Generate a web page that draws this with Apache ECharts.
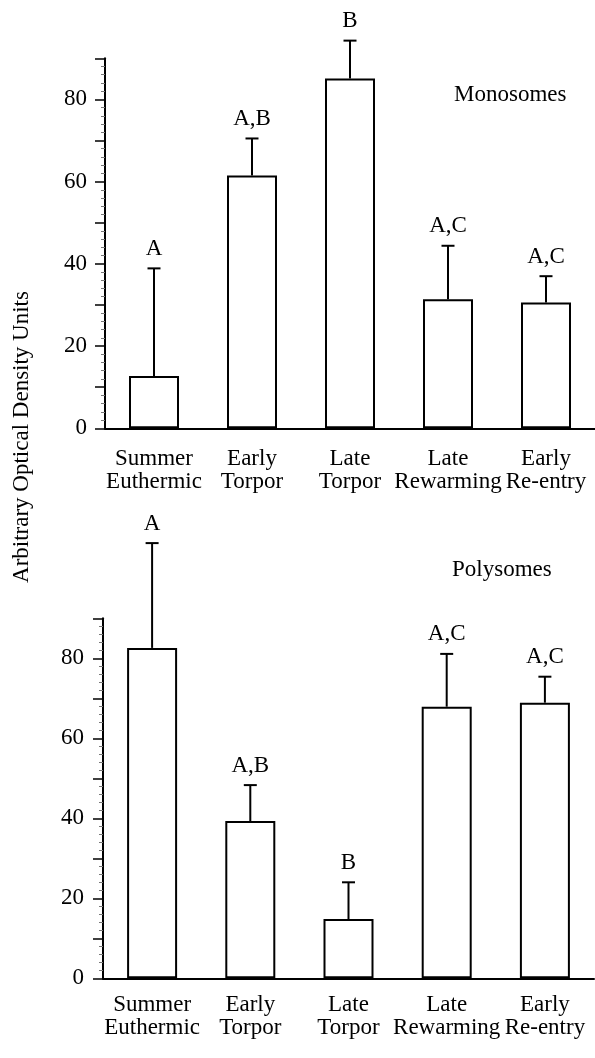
<!DOCTYPE html>
<html>
<head>
<meta charset="utf-8">
<script src="https://cdn.jsdelivr.net/npm/echarts@6/dist/echarts.min.js"></script>
<style>
  html, body { margin: 0; padding: 0; background: #fff; }
  #chart { width: 595px; height: 1058px; }
</style>
</head>
<body>
<div id="chart"></div>
<script>
// categories on both panels
const categories = ["Summer\nEuthermic", "Early\nTorpor", "Late\nTorpor", "Late\nRewarming", "Early\nRe-entry"];

// monosomes panel
const monoMeans = [12.7, 61.5, 85.1, 31.4, 30.6];
const monoErr = [26.2, 9.0, 9.2, 13.0, 6.4];
const monoLetters = ["A", "A,B", "B", "A,C", "A,C"];

// polysomes panel
const polyMeans = [82.6, 39.3, 14.8, 67.9, 68.9];
const polyErr = [26.2, 9.0, 9.2, 13.2, 6.5];
const polyLetters = ["A", "A,B", "B", "A,C", "A,C"];

const yTicks = [0, 20, 40, 60, 80];

const FONT = '"Liberation Serif", "Times New Roman", serif';
const FS = 23;

const chart = echarts.init(document.getElementById("chart"));

function xAxisFor(gridIndex, margin) {
  return {
    type: "category",
    gridIndex,
    data: categories,
    axisLine: { lineStyle: { color: "#000", width: 2 } },
    axisTick: { length: 8, lineStyle: { color: "#000", width: 1.5 } },
    axisLabel: {
      color: "#000",
      fontFamily: FONT,
      fontSize: FS,
      lineHeight: 23,
      margin,
      interval: 0,
    },
  };
}

function yAxisFor(gridIndex, margin) {
  return {
    type: "value",
    gridIndex,
    min: 0,
    max: 90,
    interval: 10,
    splitLine: { show: false },
    axisLine: { show: true, lineStyle: { color: "#000", width: 2 } },
    axisTick: { show: true, length: 10, lineStyle: { color: "#000", width: 1.5 } },
    minorTick: { show: true, splitNumber: 5, length: 4, lineStyle: { color: "#777", width: 1 } },
    axisLabel: {
      color: "#000",
      fontFamily: FONT,
      fontSize: FS,
      margin,
      formatter: (v) => (yTicks.includes(v) ? String(v) : ""),
    },
  };
}

function barSeries(idx, means) {
  return {
    type: "bar",
    xAxisIndex: idx,
    yAxisIndex: idx,
    data: means,
    barWidth: 50,
    itemStyle: { color: "#fff", borderColor: "#000", borderWidth: 2 },
    z: 2,
  };
}

function errSeries(idx, means, errs, letters) {
  return {
    type: "custom",
    xAxisIndex: idx,
    yAxisIndex: idx,
    clip: false,
    z: 3,
    data: means.map((m, i) => [i, m, m + errs[i]]),
    renderItem: (params, api) => {
      const i = api.value(0);
      const base = api.coord([i, api.value(1)]);
      const top = api.coord([i, api.value(2)]);
      const cap = 6.5;
      return {
        type: "group",
        children: [
          {
            type: "line",
            shape: { x1: base[0], y1: base[1], x2: top[0], y2: top[1] },
            style: { stroke: "#000", lineWidth: 2 },
          },
          {
            type: "line",
            shape: { x1: top[0] - cap, y1: top[1], x2: top[0] + cap, y2: top[1] },
            style: { stroke: "#000", lineWidth: 2 },
          },
          {
            type: "text",
            x: top[0],
            y: top[1] - 8,
            style: {
              text: letters[i],
              fill: "#000",
              font: FS + "px " + FONT,
              align: "center",
              verticalAlign: "bottom",
            },
          },
        ],
      };
    },
  };
}

chart.setOption({
  animation: false,
  grid: [
    { left: 105, top: 58.3, width: 492, height: 370 },
    { left: 103, top: 618.3, width: 491, height: 360 },
  ],
  xAxis: [xAxisFor(0, 19), xAxisFor(1, 15)],
  yAxis: [yAxisFor(0, 18), yAxisFor(1, 19)],
  graphic: [
    {
      type: "text",
      x: 454,
      y: 83,
      style: { text: "Monosomes", fill: "#000", font: FS + "px " + FONT },
    },
    {
      type: "text",
      x: 452,
      y: 558,
      style: { text: "Polysomes", fill: "#000", font: FS + "px " + FONT },
    },
    {
      type: "text",
      x: 22,
      y: 437,
      rotation: Math.PI / 2,
      style: {
        text: "Arbitrary Optical Density Units",
        fill: "#000",
        font: FS + "px " + FONT,
        align: "center",
        verticalAlign: "middle",
      },
    },
  ],
  series: [
    barSeries(0, monoMeans),
    errSeries(0, monoMeans, monoErr, monoLetters),
    barSeries(1, polyMeans),
    errSeries(1, polyMeans, polyErr, polyLetters),
  ],
});
</script>
</body>
</html>
